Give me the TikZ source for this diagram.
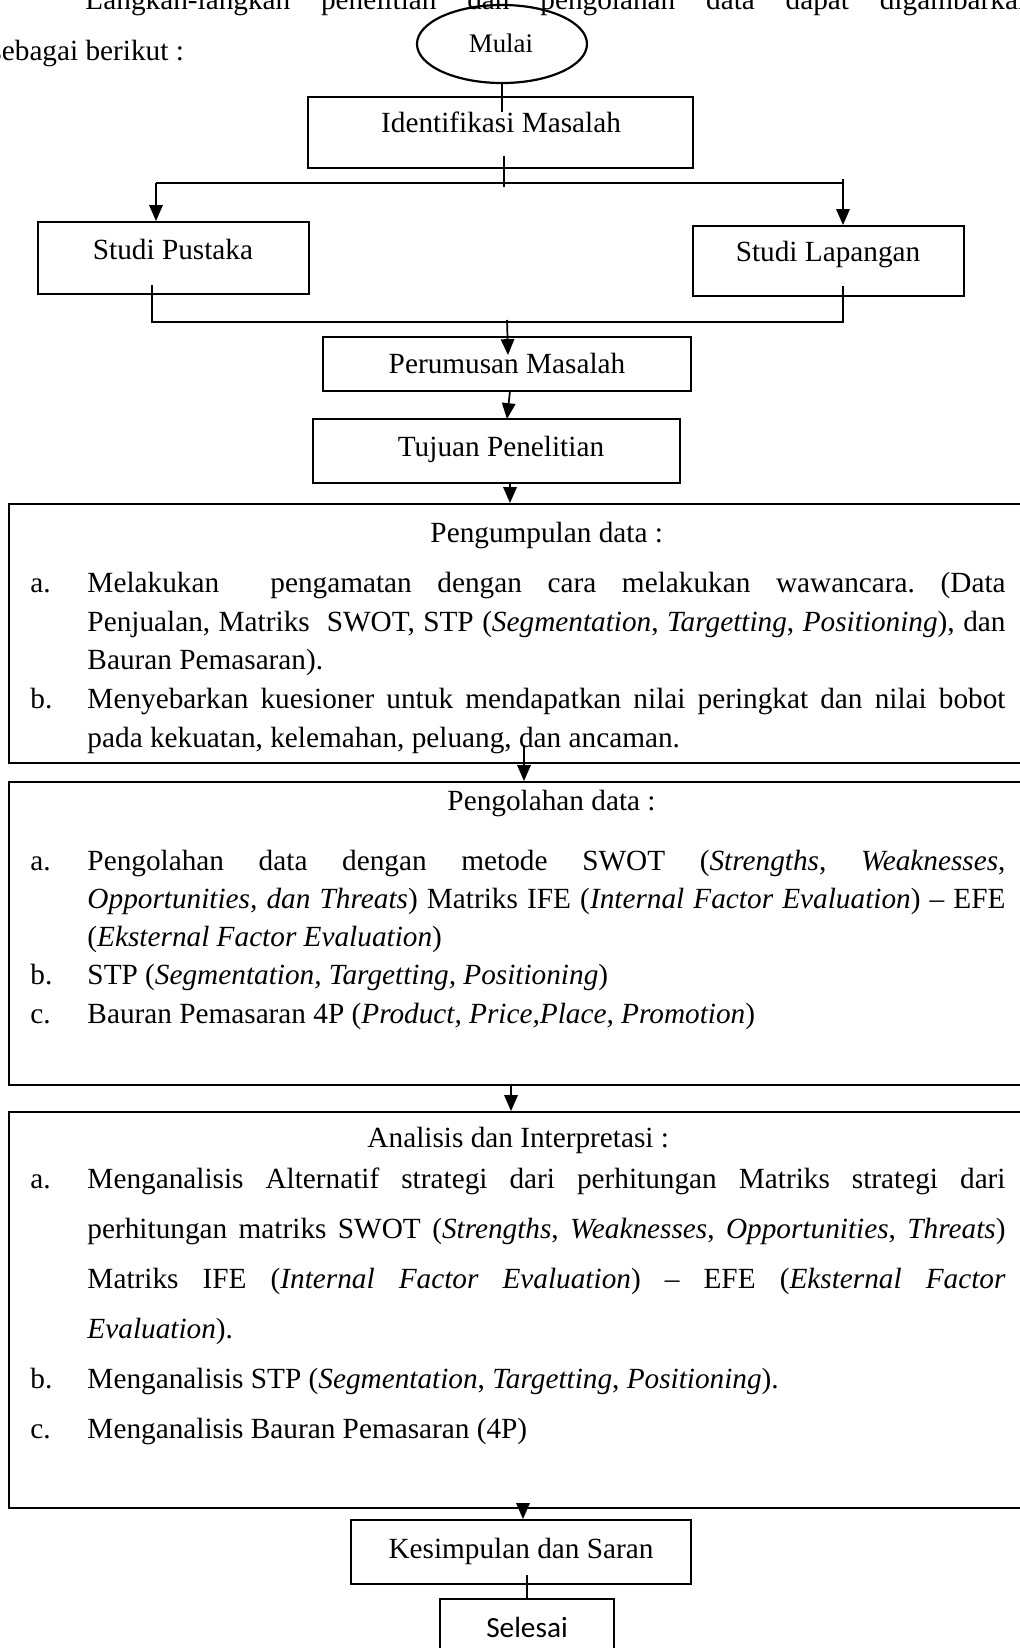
\documentclass[tikz,border=0pt]{standalone}
\usepackage{fontspec}
\setmainfont{Liberation Serif}
\newfontfamily\calibrifont{Carlito}
\usetikzlibrary{arrows.meta,fit,shapes.geometric}
\frenchspacing
\begin{document}
\begin{tikzpicture}[x=0.41pt,y=-0.41pt,
  box/.style={draw, line width=0.8pt, inner sep=0pt},
  txt/.style={inner sep=0pt, anchor=base west, font=\fontsize{12}{14}\selectfont},
  ctxt/.style={inner sep=0pt, anchor=base, font=\fontsize{12}{14}\selectfont},
  link/.style={line width=0.7pt},
  arr/.style={line width=0.7pt, -{Triangle[length=6.5pt,width=5.5pt]}}]
\useasboundingbox (0,0) rectangle (1020,1648);

% header text
\node[txt] (h1) at (85,10) {\makebox[388.3pt][s]{Langkah-langkah penelitian dan pengolahan data dapat digambarkan}};
\node[txt] (h2) at (-10,61) {sebagai berikut :};

% start
\node[draw, ellipse, line width=0.9pt, minimum width=69.7pt, minimum height=32pt, inner sep=0pt] (mulai) at (502,44) {};
\node[ctxt, font=\fontsize{11}{13}\selectfont] (tmulai) at (501,53) {Mulai};

% boxes
\node[box, fit={(308,97) (693,168)}] (idm) {};
\node[box, fit={(38,222) (309,294)}] (sp) {};
\node[box, fit={(693,226) (964,296)}] (sl) {};
\node[box, fit={(323,337) (691,391)}] (pm) {};
\node[box, fit={(313,419) (680,483)}] (tp) {};
\node[box, fit={(9,504) (1045,763)}] (b1) {};
\node[box, fit={(9,782) (1045,1085)}] (b2) {};
\node[box, fit={(9,1112) (1045,1508)}] (b3) {};
\node[box, fit={(351,1520) (691,1584)}] (ks) {};
\node[box, fit={(440,1599) (614,1662)}] (sel) {};

% box labels
\node[ctxt] (tidm) at (501,133) {Identifikasi Masalah};
\node[ctxt] (tsp) at (173,259) {Studi Pustaka};
\node[ctxt] (tsl) at (828,262) {Studi Lapangan};
\node[ctxt] (tpm) at (507,374) {Perumusan Masalah};
\node[ctxt] (ttp) at (501,456) {Tujuan Penelitian};
\node[ctxt] (tks) at (521,1558) {Kesimpulan dan Saran};
\node[ctxt, font=\calibrifont\fontsize{12}{14}\selectfont] (tsel) at (527,1637) {Selesai};

% box 1 text
\node[txt] (t1) at (430,542) {Pengumpulan data :};
\node[txt] (l1a) at (30,592) {a.};
\node[txt] (t1a1) at (87,592) {\makebox[376.4pt][s]{Melakukan\ \ pengamatan dengan cara melakukan wawancara. (Data}};
\node[txt] (t1a2) at (87,631) {\makebox[376.4pt][s]{Penjualan, Matriks\ \ SWOT, STP (\textit{Segmentation}, \textit{Targetting}, \textit{Positioning}), dan}};
\node[txt] (t1a3) at (87,669) {Bauran Pemasaran).};
\node[txt] (l1b) at (30,708) {b.};
\node[txt] (t1b1) at (87,708) {\makebox[376.4pt][s]{Menyebarkan kuesioner untuk mendapatkan nilai peringkat dan nilai bobot}};
\node[txt] (t1b2) at (87,747) {pada kekuatan, kelemahan, peluang, dan ancaman.};

% box 2 text
\node[txt] (t2) at (447,810) {Pengolahan data :};
\node[txt] (l2a) at (30,870) {a.};
\node[txt] (t2a1) at (87,870) {\makebox[376.4pt][s]{Pengolahan data dengan metode SWOT (\textit{Strengths}, \textit{Weaknesses},}};
\node[txt] (t2a2) at (87,908) {\makebox[376.4pt][s]{\textit{Opportunities, dan Threats}) Matriks IFE (\textit{Internal Factor Evaluation}) – EFE}};
\node[txt] (t2a3) at (87,946) {(\textit{Eksternal Factor Evaluation})};
\node[txt] (l2b) at (30,984) {b.};
\node[txt] (t2b) at (87,984) {STP (\textit{Segmentation, Targetting, Positioning})};
\node[txt] (l2c) at (30,1023) {c.};
\node[txt] (t2c) at (87,1023) {Bauran Pemasaran 4P (\textit{Product, Price,Place, Promotion})};

% box 3 text
\node[txt] (t3) at (367,1147) {Analisis dan Interpretasi :};
\node[txt] (l3a) at (30,1188) {a.};
\node[txt] (t3a1) at (87,1188) {\makebox[376.4pt][s]{Menganalisis Alternatif strategi dari perhitungan Matriks strategi dari}};
\node[txt] (t3a2) at (87,1238) {\makebox[376.4pt][s]{perhitungan matriks SWOT (\textit{Strengths}, \textit{Weaknesses}, \textit{Opportunities}, \textit{Threats})}};
\node[txt] (t3a3) at (87,1288) {\makebox[376.4pt][s]{Matriks IFE (\textit{Internal Factor Evaluation}) – EFE (\textit{Eksternal Factor}}};
\node[txt] (t3a4) at (87,1338) {\textit{Evaluation}).};
\node[txt] (l3b) at (30,1388) {b.};
\node[txt] (t3b) at (87,1388) {Menganalisis STP (\textit{Segmentation}, \textit{Targetting}, \textit{Positioning}).};
\node[txt] (l3c) at (30,1438) {c.};
\node[txt] (t3c) at (87,1438) {Menganalisis Bauran Pemasaran (4P)};

% connector coordinates
\coordinate (c1) at (502,112);
\coordinate (s0) at (504,156);
\coordinate (s1) at (504,187);
\coordinate (hl) at (156,183);
\coordinate (hr) at (843,183);
\coordinate (hr0) at (843,179);
\coordinate (pl) at (152,285);
\coordinate (pr) at (843,286);
\coordinate (ql) at (152,322);
\coordinate (qr) at (843,322);
\coordinate (m0) at (507,320);
\coordinate (m1) at (508,355);
\coordinate (pmo) at (510,391);
\coordinate (tpi) at (507,419);
\coordinate (xa) at (510,0);
\coordinate (xb) at (524,745);
\coordinate (xc) at (511,0);
\coordinate (xd) at (523,0);
\coordinate (xe) at (527,1575);

% connectors
\draw[link] (mulai.south) -- (c1);
\draw[link] (s0) -- (s1);
\draw[link] (hl) -- (hr);
\draw[arr] (hl) -- (hl |- sp.north);
\draw[arr] (hr0) -- (hr0 |- sl.north);
\draw[link] (pl) -- (ql) -- (qr) -- (pr);
\draw[arr] (m0) -- (m1);
\draw[arr] (pmo) -- (tpi);
\draw[arr] (tp.south -| xa) -- (b1.north -| xa);
\draw[arr] (xb) -- (b2.north -| xb);
\draw[arr] (b2.south -| xc) -- (b3.north -| xc);
\draw[arr] (b3.south -| xd) -- (ks.north -| xd);
\draw[link] (xe) -- (xe |- sel.north);
\end{tikzpicture}
\end{document}
